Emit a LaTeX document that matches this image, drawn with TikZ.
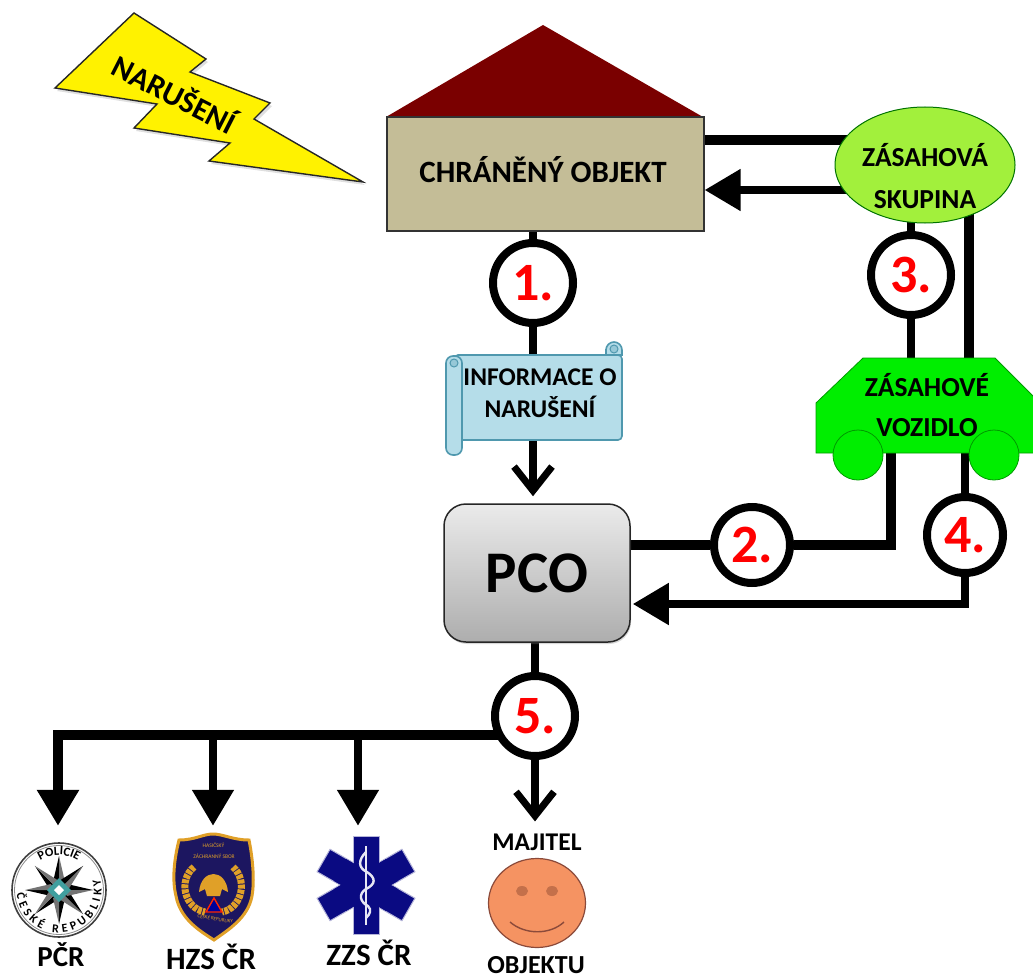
\documentclass[tikz,border=0pt]{standalone}
\usepackage{fontspec}
\setmainfont{Carlito}
\usetikzlibrary{arrows.meta,backgrounds,decorations.text,shadows,shapes.geometric}
\definecolor{roofc}{HTML}{7A0000}
\definecolor{wallc}{HTML}{C4BD97}
\definecolor{skupc}{HTML}{A2F03C}
\definecolor{carc}{HTML}{00EE00}
\definecolor{scrollc}{HTML}{B5DDE9}
\definecolor{scrolle}{HTML}{4F98AE}
\definecolor{navyc}{HTML}{0A0A82}
\definecolor{shieldc}{HTML}{1C1660}
\definecolor{goldc}{HTML}{E0A028}
\definecolor{facec}{HTML}{F59362}
\definecolor{facee}{HTML}{8B4A3A}
\definecolor{eyec}{HTML}{C4704A}
\newcommand{\txt}[1]{\fontsize{#1}{#1}\selectfont\bfseries}
\tikzset{
  x=1pt,y=1pt,
  conn/.style={line width=8pt,black},
  connw/.style={line width=10pt,black},
  solidtip/.style={-{Triangle[length=36pt,width=40pt]}},
  opentip/.style={-{Straight Barb[length=24pt,width=38pt,line width=7pt]}},
  numc/.style={circle,draw=black,line width=8pt,fill=white,inner sep=0pt,text=red,font=\txt{54}},
  lab/.style={inner sep=0pt,align=center,text=black},
  ghost/.style={inner sep=0pt,minimum width=#1,minimum height=#1},
}
\begin{document}
\begin{tikzpicture}
\useasboundingbox (0,0) rectangle (1033,-979);

% bolt
\fill[gray,opacity=.25] (136,-16) -- (208,-62) -- (192,-75) -- (272,-106) -- (256,-122) -- (365,-185) -- (211,-164) -- (232,-146) -- (136,-131) -- (159,-107) -- (57,-91) -- cycle;
\draw[fill=yellow,line width=1.4pt,draw=black!85] (134,-13) -- (206,-59) -- (190,-72) -- (270,-103) -- (254,-119) -- (363,-182) -- (209,-161) -- (230,-143) -- (134,-128) -- (157,-104) -- (55,-88) -- cycle;
\node[lab,rotate=-27,font=\txt{31}] (bolt) at (175,-93) {NARUŠENÍ};

% protected object
\fill[roofc] (386,-117) -- (543,-25) -- (703,-117) -- cycle;
\node[draw=black!80,fill=wallc,line width=1.2pt,minimum width=317pt,minimum height=114pt,inner sep=0pt] (obj) at (545.5,-174) {};
\node[lab,font=\txt{31}] (objl) at (543,-170) {CHRÁNĚNÝ OBJEKT};

% team
\node[ellipse,draw=green!45!black,fill=skupc,line width=1pt,minimum width=180pt,minimum height=116pt,inner sep=0pt] (skup) at (925,-165) {};
\node[lab,font=\txt{27.5}] (skupl) at (925,-176) {ZÁSAHOVÁ\\[15pt]SKUPINA};

% car
\draw[fill=carc,draw=green!60!black,line width=.8pt] (863,-358) -- (995,-358) -- (1040,-403) -- (1040,-453) -- (816,-453) -- (816,-403) -- cycle;
\draw[fill=carc,draw=green!60!black,line width=.8pt] (858,-455) circle[radius=25];
\draw[fill=carc,draw=green!60!black,line width=.8pt] (994,-455) circle[radius=25];
\node[lab,font=\txt{27.5}] (car) at (927,-405) {ZÁSAHOVÉ\\[13pt]VOZIDLO};

% scroll
\draw[fill=scrollc,draw=scrolle,line width=1.6pt] (606,-355) -- (606,-350) arc[start angle=180,end angle=0,radius=8] -- (622,-355) -- cycle;
\draw[fill=scrollc,draw=scrolle,line width=1.6pt,rounded corners=4pt] (454,-355) rectangle (622,-440);
\draw[fill=scrollc,draw=scrolle,line width=1.6pt,rounded corners=7pt] (446,-356) rectangle (462,-455);
\draw[scrolle,line width=1.2pt] (606,-355) -- (606,-349);
\draw[fill=scrollc!70!scrolle,draw=scrolle,line width=1pt] (454,-363) circle[radius=4];
\draw[fill=scrollc!70!scrolle,draw=scrolle,line width=1pt] (614,-349) circle[radius=4];
\node[lab,font=\txt{25.5}] (info) at (540,-393) {INFORMACE O\\[6pt]NARUŠENÍ};

% PCO
\node[rounded corners=22pt,draw=black!85,line width=1.5pt,top color=black!8,bottom color=black!32,minimum width=186pt,minimum height=138pt,inner sep=0pt,font=\txt{59},drop shadow={shadow xshift=1pt,shadow yshift=-2pt,opacity=.3}] (pco) at (537,-573) {PCO};

% numbered circles
\node[numc,minimum size=80pt] (c1) at (533,-283) {1.};
\node[numc,minimum size=76pt] (c2) at (752,-545) {2.};
\node[numc,minimum size=80pt] (c3) at (911,-275) {3.};
\node[numc,minimum size=76pt] (c4) at (965,-535) {4.};
\node[numc,minimum size=80pt] (c5) at (535,-716) {5.};

% logo anchors
\node[ghost=96pt] (pcr) at (59,-890) {};
\node[ghost=110pt] (hzs) at (213,-887) {};
\node[ghost=98pt] (zzs) at (366,-885) {};
\node[ellipse,draw=facee,fill=facec,line width=1.2pt,minimum width=97pt,minimum height=89pt,inner sep=0pt] (face) at (537,-903) {};

% police badge
\draw[black!75,line width=1.6pt,fill=white] (pcr) circle[radius=47];
\draw[black!45,line width=.8pt] (pcr) circle[radius=44.5];
\foreach \a in {0,45,...,315}{
  \fill[black,shift={(pcr.center)},rotate=\a] (0,34) -- (-6,8) -- (0,5) -- cycle;
  \fill[black!55,shift={(pcr.center)},rotate=\a] (0,34) -- (6,8) -- (0,5) -- cycle;
}
\fill[teal!75!white,shift={(pcr.center)}] (0,12) -- (12,0) -- (0,-12) -- (-12,0) -- cycle;
\fill[white,shift={(pcr.center)}] (0,5) -- (5,0) -- (0,-5) -- (-5,0) -- cycle;
\path[shift={(pcr.center)},decorate,decoration={text along path,text align=center,text={|\txt{12.5}|POLICIE}}] (140:35) arc[start angle=140,end angle=40,radius=35];
\path[shift={(pcr.center)},decorate,decoration={text along path,text align=fit to path,text={|\txt{12}|ČESKÉ REPUBLIKY}}] (185:42.5) arc[start angle=185,end angle=375,radius=42.5];

% HZS shield
\draw[fill=shieldc,draw=goldc,line width=3pt] (179,-840) .. controls (195,-840) and (203,-834) .. (213,-834) .. controls (223,-834) and (233,-840) .. (249,-840) .. controls (254,-865) and (254,-885) .. (252,-896) .. controls (248,-918) and (228,-930) .. (214,-940) .. controls (198,-930) and (180,-918) .. (176,-896) .. controls (172,-880) and (174,-860) .. (179,-840) -- cycle;
\draw[goldc,line width=7pt,dash pattern=on 4pt off 1pt] (194,-867) .. controls (178,-880) and (184,-908) .. (205,-912);
\draw[goldc,line width=7pt,dash pattern=on 4pt off 1pt] (233,-867) .. controls (248,-880) and (242,-908) .. (222,-912);
\fill[goldc] (199,-892) .. controls (201,-868) and (226,-868) .. (228,-892) -- (222,-889) -- (205,-889) -- cycle;
\fill[goldc] (205,-889) -- (222,-889) -- (220,-896) -- (207,-896) -- cycle;
\draw[red!70!orange,fill=blue!60!black,line width=1.4pt] (214,-898) -- (222,-912) -- (206,-912) -- cycle;
\path[decorate,decoration={text along path,text align=center,text={|\fontsize{5.5}{5.5}\selectfont\color{goldc}|HASIČSKÝ}}] (193,-847) -- (234,-847);
\path[decorate,decoration={text along path,text align=center,text={|\fontsize{5.5}{5.5}\selectfont\color{goldc}|ZÁCHRANNÝ SBOR}}] (182,-858) -- (246,-858);
\path[decorate,decoration={text along path,text align=center,text={|\fontsize{5}{5}\selectfont\color{goldc}|ČESKÉ REPUBLIKY}}] (187,-916) -- (243,-925);

% star of life
\foreach \a in {0,60,120}{
  \draw[fill=navyc,draw=navyc!30!white,line width=1pt,shift={(zzs.center)},rotate=\a] (-13,-49) rectangle (13,49);
}
\foreach \a in {60,120}{
  \fill[navyc,shift={(zzs.center)},rotate=\a] (-12.5,-30) rectangle (12.5,30);
}
\fill[navyc,shift={(zzs.center)}] (-12.5,-48) rectangle (12.5,48);
\draw[white!90!navyc,line width=2pt] (366,-846) -- (366,-925);
\draw[white!90!navyc,line width=2.4pt] (366,-852) .. controls (358,-860) and (358,-868) .. (367,-872) .. controls (376,-878) and (376,-884) .. (366,-889) .. controls (358,-894) and (360,-902) .. (368,-906) .. controls (372,-910) and (370,-914) .. (366,-918);

% face
\fill[eyec] (522,-891) ellipse[x radius=6,y radius=5];
\fill[eyec] (552,-891) ellipse[x radius=6,y radius=5];
\draw[facee,line width=1.4pt] (510,-922) .. controls (525,-935) and (550,-935) .. (564,-922);

% labels
\node[lab,font=\txt{29}] (lpcr) at (61,-955) {PČR};
\node[lab,font=\txt{31}] (lhzs) at (211,-957) {HZS ČR};
\node[lab,font=\txt{31}] (lzzs) at (369,-953) {ZZS ČR};
\node[lab,font=\txt{25.5}] (lmaj) at (537,-842) {MAJITEL};
\node[lab,font=\txt{26}] (lobj) at (536,-965) {OBJEKTU};

% connectors
\coordinate (k2) at (891,-545);
\coordinate (k4) at (965,-604);
\coordinate (k5a) at (58,-735);
\coordinate (k5b) at (213,-735);
\coordinate (k5c) at (358,-735);
\coordinate (k6) at (969,-300);
\begin{scope}[on background layer]
  \draw[connw] (obj.east |- 0,-140) -- (skup.center |- 0,-140);
  \draw[conn,solidtip] (skup.center |- 0,-190) -- (obj.east |- 0,-190) ;
  \draw[conn] (c1 |- obj) -- (c1) -- (info.center -| c1);
  \draw[conn,opentip,shorten >=7pt] (info.center -| c1) -- (pco.north -| c1);
  \draw[connw] (pco.center |- c2) -- (c2) -- (k2) -- (k2 |- car);
  \draw[conn] (c3 |- skup) -- (c3) -- (c3 |- car);
  \draw[connw] (k6 |- skup) -- (k6 |- car);
  \draw[conn,solidtip,shorten >=2pt] (c4 |- car) -- (c4) -- (k4) -- (k4 -| pco.east);
  \draw[conn] (pco.center -| c5) -- (c5);
  \draw[conn,opentip,shorten >=12pt] (c5) -- (lmaj.north -| c5);
  \draw[connw,solidtip,shorten >=16pt] (c5 |- k5a) -- (k5a) -- (k5a |- pcr.north);
  \draw[conn,solidtip,shorten >=6pt] (k5b) -- (k5b |- hzs.north);
  \draw[conn,solidtip,shorten >=10pt] (k5c) -- (k5c |- zzs.north);
\end{scope}
\end{tikzpicture}
\end{document}
